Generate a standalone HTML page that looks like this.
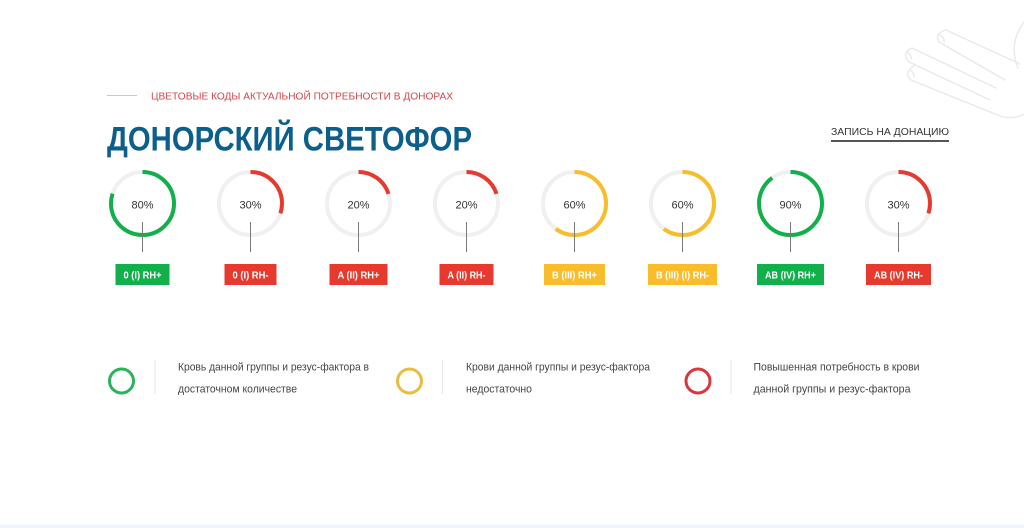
<!DOCTYPE html>
<html><head><meta charset="utf-8"><style>
html,body{margin:0;padding:0;background:#fff;width:1024px;height:528px;overflow:hidden}
svg{display:block}
text{font-family:"Liberation Sans","DejaVu Sans",sans-serif}
</style></head><body>
<svg width="1024" height="528" viewBox="0 0 1024 528" xmlns="http://www.w3.org/2000/svg">
<rect width="1024" height="528" fill="#fff"/>
<rect x="0" y="525" width="1024" height="3" fill="#eef4fb"/>
<!-- hand drawing -->
<g fill="none" stroke="#e9e9e9" stroke-width="1.4" stroke-linecap="round">
<path d="M946 30 Q934 33 939 42 L1005 80"/>
<path d="M946 30 L1020 64"/>
<path d="M1024 22 Q1008 44 1018 68"/>
<path d="M912 48 Q901 53 909 62 L990 100"/>
<path d="M912 48 L996 88"/>
<path d="M914 66 Q903 72 911 80 L1000 116 Q1014 120 1024 114"/>
<path d="M940 35 Q945 38 944 42"/>
<path d="M907 52 Q912 55 911 59"/>
<path d="M910 70 Q915 73 914 77"/>
</g>
<!-- header -->
<line x1="107" y1="95.5" x2="137" y2="95.5" stroke="#e2bcbc" stroke-width="1"/>
<text x="151" y="99.5" font-size="10" fill="#d0474a" textLength="302" lengthAdjust="spacingAndGlyphs">ЦВЕТОВЫЕ КОДЫ АКТУАЛЬНОЙ ПОТРЕБНОСТИ В ДОНОРАХ</text>
<text x="107" y="150.5" font-size="34" font-weight="bold" fill="#0b5f8a" textLength="365" lengthAdjust="spacingAndGlyphs">ДОНОРСКИЙ СВЕТОФОР</text>
<text x="831" y="134.8" font-size="10.5" fill="#333" textLength="118" lengthAdjust="spacingAndGlyphs">ЗАПИСЬ НА ДОНАЦИЮ</text>
<rect x="831" y="140" width="118" height="2" fill="#555"/>

<!-- circles -->
<g fill="none" stroke-width="4">
<circle cx="142.5" cy="203.5" r="31.5" stroke="#f0f0f0"/>
<circle cx="142.5" cy="203.5" r="31.5" stroke="#11b04b" stroke-dasharray="158.3 300" transform="rotate(-90 142.5 203.5)"/>
<circle cx="250.5" cy="203.5" r="31.5" stroke="#f0f0f0"/>
<circle cx="250.5" cy="203.5" r="31.5" stroke="#e63a2f" stroke-dasharray="59.4 300" transform="rotate(-90 250.5 203.5)"/>
<circle cx="358.5" cy="203.5" r="31.5" stroke="#f0f0f0"/>
<circle cx="358.5" cy="203.5" r="31.5" stroke="#e63a2f" stroke-dasharray="39.6 300" transform="rotate(-90 358.5 203.5)"/>
<circle cx="466.5" cy="203.5" r="31.5" stroke="#f0f0f0"/>
<circle cx="466.5" cy="203.5" r="31.5" stroke="#e63a2f" stroke-dasharray="39.6 300" transform="rotate(-90 466.5 203.5)"/>
<circle cx="574.5" cy="203.5" r="31.5" stroke="#f0f0f0"/>
<circle cx="574.5" cy="203.5" r="31.5" stroke="#f7bd2a" stroke-dasharray="118.8 300" transform="rotate(-90 574.5 203.5)"/>
<circle cx="682.5" cy="203.5" r="31.5" stroke="#f0f0f0"/>
<circle cx="682.5" cy="203.5" r="31.5" stroke="#f7bd2a" stroke-dasharray="118.8 300" transform="rotate(-90 682.5 203.5)"/>
<circle cx="790.5" cy="203.5" r="31.5" stroke="#f0f0f0"/>
<circle cx="790.5" cy="203.5" r="31.5" stroke="#11b04b" stroke-dasharray="178.1 300" transform="rotate(-90 790.5 203.5)"/>
<circle cx="898.5" cy="203.5" r="31.5" stroke="#f0f0f0"/>
<circle cx="898.5" cy="203.5" r="31.5" stroke="#e63a2f" stroke-dasharray="59.4 300" transform="rotate(-90 898.5 203.5)"/>
</g>
<g font-size="11" fill="#333" text-anchor="middle">
<text x="142.5" y="208.7">80%</text>
<text x="250.5" y="208.7">30%</text>
<text x="358.5" y="208.7">20%</text>
<text x="466.5" y="208.7">20%</text>
<text x="574.5" y="208.7">60%</text>
<text x="682.5" y="208.7">60%</text>
<text x="790.5" y="208.7">90%</text>
<text x="898.5" y="208.7">30%</text>
</g>
<g stroke="#7a7a7a" stroke-width="1">
<line x1="142.5" y1="222" x2="142.5" y2="252"/>
<line x1="250.5" y1="222" x2="250.5" y2="252"/>
<line x1="358.5" y1="222" x2="358.5" y2="252"/>
<line x1="466.5" y1="222" x2="466.5" y2="252"/>
<line x1="574.5" y1="222" x2="574.5" y2="252"/>
<line x1="682.5" y1="222" x2="682.5" y2="252"/>
<line x1="790.5" y1="222" x2="790.5" y2="252"/>
<line x1="898.5" y1="222" x2="898.5" y2="252"/>
</g>
<!-- labels -->
<rect x="115.5" y="264" width="54" height="21" fill="#11b04b"/>
<rect x="224.5" y="264" width="52" height="21" fill="#e63a2f"/>
<rect x="329.5" y="264" width="58" height="21" fill="#e63a2f"/>
<rect x="439.5" y="264" width="54" height="21" fill="#e63a2f"/>
<rect x="544" y="264" width="61" height="21" fill="#f7bd2a"/>
<rect x="648" y="264" width="69" height="21" fill="#f7bd2a"/>
<rect x="757" y="264" width="67" height="21" fill="#11b04b"/>
<rect x="866" y="264" width="65" height="21" fill="#e63a2f"/>
<g font-size="10" font-weight="bold" fill="#fff" text-anchor="middle">
<text x="142.5" y="278.3" textLength="38" lengthAdjust="spacingAndGlyphs">0 (I) RH+</text>
<text x="250.5" y="278.3" textLength="36" lengthAdjust="spacingAndGlyphs">0 (I) RH-</text>
<text x="358.5" y="278.3" textLength="42" lengthAdjust="spacingAndGlyphs">A (II) RH+</text>
<text x="466.5" y="278.3" textLength="38" lengthAdjust="spacingAndGlyphs">A (II) RH-</text>
<text x="574.5" y="278.3" textLength="45" lengthAdjust="spacingAndGlyphs">B (III) RH+</text>
<text x="682.5" y="278.3" textLength="53" lengthAdjust="spacingAndGlyphs">B (III) (I) RH-</text>
<text x="790.5" y="278.3" textLength="51" lengthAdjust="spacingAndGlyphs">AB (IV) RH+</text>
<text x="898.5" y="278.3" textLength="49" lengthAdjust="spacingAndGlyphs">AB (IV) RH-</text>
</g>
<!-- legend -->
<g fill="none" stroke-width="3">
<circle cx="121.5" cy="381" r="12" stroke="#2bb35a"/>
<circle cx="409.5" cy="381" r="12" stroke="#e8bd45"/>
<circle cx="698" cy="381" r="12" stroke="#d9363e"/>
</g>
<g stroke="#e6e6e6" stroke-width="1">
<line x1="155" y1="360" x2="155" y2="394"/>
<line x1="442.5" y1="360" x2="442.5" y2="394"/>
<line x1="731" y1="360" x2="731" y2="394"/>
</g>
<g font-size="11" fill="#444">
<text x="178" y="370.5" textLength="191" lengthAdjust="spacingAndGlyphs">Кровь данной группы и резус-фактора в</text>
<text x="178" y="392.5" textLength="119" lengthAdjust="spacingAndGlyphs">достаточном количестве</text>
<text x="466" y="370.5" textLength="184" lengthAdjust="spacingAndGlyphs">Крови данной группы и резус-фактора</text>
<text x="466" y="392.5" textLength="66" lengthAdjust="spacingAndGlyphs">недостаточно</text>
<text x="753.5" y="370.5" textLength="166" lengthAdjust="spacingAndGlyphs">Повышенная потребность в крови</text>
<text x="753.5" y="392.5" textLength="157" lengthAdjust="spacingAndGlyphs">данной группы и резус-фактора</text>
</g>
</svg>
</body></html>
